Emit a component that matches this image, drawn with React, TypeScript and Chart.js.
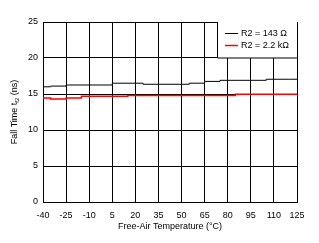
import React, { useEffect, useRef } from "react";
import { Chart, registerables } from "chart.js";

Chart.register(...registerables);

const xTicks = [-40, -25, -10, 5, 20, 35, 50, 65, 80, 95, 110, 125];
const yTicks = [0, 5, 10, 15, 20, 25];

const tempBlack = [-40, -35, -25, 5, 25, 55, 65, 75, 105, 120, 125];
const fallBlack = [15.8, 16.0, 16.1, 16.25, 16.5, 16.35, 16.5, 16.75, 16.9, 17.05, 17.05];

const tempRed = [-40, -35, -25, -15, 15, 85, 115, 125];
const fallRed = [14.3, 14.45, 14.3, 14.45, 14.7, 14.8, 14.95, 14.95];

const seriesLabels = ["R2 = 143 Ω", "R2 = 2.2 kΩ"];
const seriesColors = ["#000000", "#ff0000"];
const seriesWidths = [1, 1.5];

const xTitle = "Free-Air Temperature (°C)";
const yTitleParts = ["Fall Time t", "f2", " (ns)"];

const FONT = "'Liberation Sans', Arial, sans-serif";

const legendPlugin = {
  id: "boxLegend",
  afterDatasetsDraw(chart: any) {
    const { ctx, chartArea, scales } = chart;
    const x = scales.x;
    const y = scales.y;
    const left = x.getPixelForValue(73);
    const right = chartArea.right;
    const top = chartArea.top;
    const bottom = y.getPixelForValue(20);
    ctx.save();
    ctx.fillStyle = "#ffffff";
    ctx.fillRect(left, top, right - left, bottom - top);
    ctx.strokeStyle = "#000";
    ctx.lineWidth = 1;
    ctx.beginPath();
    ctx.moveTo(Math.round(left) + 0.5, top);
    ctx.lineTo(Math.round(left) + 0.5, bottom);
    ctx.lineTo(right, bottom);
    ctx.stroke();
    ctx.font = `9px ${FONT}`;
    ctx.textBaseline = "middle";
    ctx.textAlign = "left";
    chart.data.datasets.forEach((ds: any, i: number) => {
      const ly = Math.round(top + 11 + i * 12) + 0.5;
      ctx.strokeStyle = ds.borderColor;
      ctx.lineWidth = ds.borderWidth;
      ctx.beginPath();
      ctx.moveTo(left + 8, ly);
      ctx.lineTo(left + 21, ly);
      ctx.stroke();
      ctx.fillStyle = "#000";
      ctx.fillText(ds.label, left + 24, ly);
    });
    ctx.restore();
  },
};

const yTitlePlugin = {
  id: "yTitle",
  afterDraw(chart: any) {
    const { ctx, chartArea } = chart;
    const cy = (chartArea.top + chartArea.bottom) / 2;
    ctx.save();
    ctx.translate(15, cy);
    ctx.rotate(-Math.PI / 2);
    ctx.fillStyle = "#000";
    ctx.textBaseline = "middle";
    ctx.textAlign = "left";
    const big = `9px ${FONT}`;
    const small = `6px ${FONT}`;
    ctx.font = big;
    const w0 = ctx.measureText(yTitleParts[0]).width;
    const w2 = ctx.measureText(yTitleParts[2]).width;
    ctx.font = small;
    const w1 = ctx.measureText(yTitleParts[1]).width;
    let sx = -(w0 + w1 + w2) / 2;
    ctx.font = big;
    ctx.fillText(yTitleParts[0], sx, 0);
    sx += w0;
    ctx.font = small;
    ctx.fillText(yTitleParts[1], sx, 2);
    sx += w1;
    ctx.font = big;
    ctx.fillText(yTitleParts[2], sx, 0);
    ctx.restore();
  },
};

export default function App() {
  const ref = useRef<HTMLCanvasElement>(null);
  useEffect(() => {
    if (!ref.current) return;
    const chart = new Chart(ref.current, {
      type: "line",
      data: {
        datasets: [
          {
            label: seriesLabels[0],
            data: tempBlack.map((t, i) => ({ x: t, y: fallBlack[i] })),
            borderColor: seriesColors[0],
            backgroundColor: seriesColors[0],
            borderWidth: seriesWidths[0],
            pointRadius: 0,
            stepped: "after",
          },
          {
            label: seriesLabels[1],
            data: tempRed.map((t, i) => ({ x: t, y: fallRed[i] })),
            borderColor: seriesColors[1],
            backgroundColor: seriesColors[1],
            borderWidth: seriesWidths[1],
            pointRadius: 0,
            stepped: "after",
          },
        ],
      },
      options: {
        animation: false,
        responsive: false,
        maintainAspectRatio: false,
        layout: { padding: { top: 22, right: 22, left: 0, bottom: 0 } },
        plugins: {
          legend: { display: false },
          tooltip: { enabled: false },
        },
        scales: {
          x: {
            type: "linear",
            min: -40,
            max: 125,
            afterBuildTicks: (s: any) => {
              s.ticks = xTicks.map((v) => ({ value: v }));
            },
            afterFit: (s: any) => {
              s.height = 41;
            },
            grid: { color: "#000", lineWidth: 1, drawTicks: false },
            border: { color: "#000", width: 1 },
            ticks: {
              color: "#000",
              font: { size: 9, family: FONT },
              padding: 8,
              maxRotation: 0,
              autoSkip: false,
            },
            title: {
              display: true,
              text: xTitle,
              color: "#000",
              font: { size: 9, family: FONT },
              padding: { top: 0, bottom: 11 },
            },
          },
          y: {
            type: "linear",
            min: 0,
            max: 25,
            afterBuildTicks: (s: any) => {
              s.ticks = yTicks.map((v) => ({ value: v }));
            },
            afterFit: (s: any) => {
              s.width = 43;
            },
            grid: { color: "#000", lineWidth: 1, drawTicks: false },
            border: { color: "#000", width: 1 },
            ticks: {
              color: "#000",
              font: { size: 9, family: FONT },
              padding: 5,
            },
          },
        },
      },
      plugins: [legendPlugin, yTitlePlugin],
    } as any);
    return () => chart.destroy();
  }, []);
  return (
    <div style={{ position: "absolute", left: 0, top: 0, width: 319, height: 243, background: "#fff" }}>
      <canvas ref={ref} width={319} height={243} style={{ width: 319, height: 243 }} />
    </div>
  );
}
